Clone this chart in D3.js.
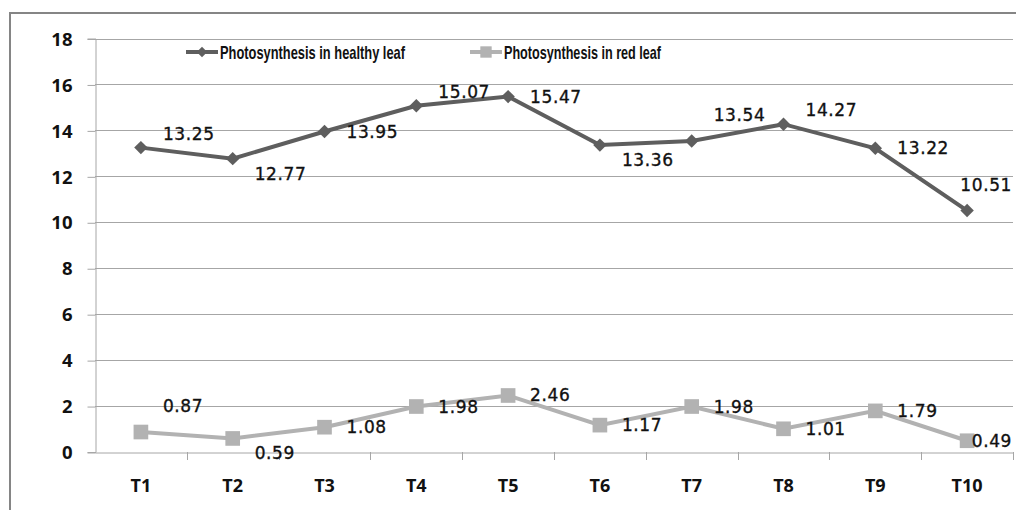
<!DOCTYPE html>
<html>
<head>
<meta charset="utf-8">
<script src="https://cdn.jsdelivr.net/npm/d3@7"></script>
<style>
  body { margin: 0; background: #fff; }
  svg { display: block; }
</style>
</head>
<body>
<div id="chart"></div>
<script>
const categories = ["T1", "T2", "T3", "T4", "T5", "T6", "T7", "T8", "T9", "T10"]
const healthy = [13.25, 12.77, 13.95, 15.07, 15.47, 13.36, 13.54, 14.27, 13.22, 10.51]
const red = [0.87, 0.59, 1.08, 1.98, 2.46, 1.17, 1.98, 1.01, 1.79, 0.49]
const yTicks = [0, 2, 4, 6, 8, 10, 12, 14, 16, 18]
// where each data label sits, like the spreadsheet's label placement
const healthyLabelPos = ["above", "below", "right", "above", "right", "below", "high", "above", "right", "high"]
const redLabelPos = ["high", "below", "right", "right", "right", "right", "right", "right", "right", "right"]

const width = 1016, height = 510
const margin = {top: 38.5, right: 3, bottom: 58, left: 95}

const svg = d3.select("#chart").append("svg")
  .attr("width", width)
  .attr("height", height)

// outer chart frame, runs off the right and bottom like the original
svg.append("rect")
  .attr("x", 10).attr("y", 13)
  .attr("width", 1030).attr("height", 530)
  .attr("fill", "none")
  .attr("stroke", "#858585")
  .attr("stroke-width", 2)

const x = d3.scaleBand()
  .domain(categories)
  .range([margin.left, width - margin.right])

const y = d3.scaleLinear()
  .domain([0, 18])
  .range([height - margin.bottom, margin.top])

const gridColor = "#a6a6a6"

// gridlines
svg.append("g")
  .selectAll("line")
  .data(yTicks.filter(d => d > 0))
  .join("line")
    .attr("x1", margin.left)
    .attr("x2", width - margin.right)
    .attr("y1", d => Math.round(y(d)) + 0.5)
    .attr("y2", d => Math.round(y(d)) + 0.5)
    .attr("stroke", gridColor)

const yAxis = svg.append("g")
  .attr("transform", `translate(${margin.left + 0.5},0)`)
  .call(d3.axisLeft(y).tickValues(yTicks).tickSize(8).tickPadding(15).tickFormat(d3.format("d")))
yAxis.attr("font-size", null).attr("font-family", null)
yAxis.select(".domain").attr("stroke", gridColor)
yAxis.selectAll(".tick line").attr("stroke", gridColor)
  .attr("transform", "translate(0,0.5)")
yAxis.selectAll("text")
  .attr("fill", "#111")
  .attr("dy", "0.36em")
  .style("font-family", "'Open Sans', sans-serif")
  .style("font-weight", "bold")
  .style("font-size", "18.5px")

const xAxis = svg.append("g")
  .attr("transform", `translate(0,${Math.round(y(0)) + 0.5})`)
  .call(d3.axisBottom(x).tickSize(0).tickPadding(27))
xAxis.attr("font-size", null).attr("font-family", null)
xAxis.select(".domain").attr("stroke", gridColor)
xAxis.selectAll("text")
  .attr("fill", "#111")
  .style("font-family", "'Open Sans', sans-serif")
  .style("font-weight", "bold")
  .style("font-size", "18px")

// category separators below the axis
svg.append("g")
  .selectAll("line")
  .data(categories)
  .join("line")
    .attr("x1", d => Math.round(x(d) + x.bandwidth()) + 0.5)
    .attr("x2", d => Math.round(x(d) + x.bandwidth()) + 0.5)
    .attr("y1", y(0))
    .attr("y2", y(0) + 8)
    .attr("stroke", gridColor)

const cx = d => x(d) + x.bandwidth() / 2

const series = [
  {name: "Photosynthesis in healthy leaf", values: healthy, color: "#5e5e5e", marker: "diamond", pos: healthyLabelPos, legendX: 186, legendW: 185},
  {name: "Photosynthesis in red leaf", values: red, color: "#b2b2b2", marker: "square", pos: redLabelPos, legendX: 470, legendW: 157},
]

const symbolOf = (m, k = 1) => m == "diamond"
  ? d3.symbol().type(d3.symbolDiamond2).size(115 * k)
  : d3.symbol().type(d3.symbolSquare).size(215 * k)

const labelDy = {right: 6, above: -8, below: 21, high: -20}

for (const s of series) {
  const pts = s.values.map((v, i) => ({c: categories[i], v, pos: s.pos[i]}))
  const line = d3.line().x(d => cx(d.c)).y(d => y(d.v))

  svg.append("path")
    .datum(pts)
    .attr("d", line)
    .attr("fill", "none")
    .attr("stroke", s.color)
    .attr("stroke-width", 4)

  svg.append("g")
    .selectAll("path")
    .data(pts)
    .join("path")
      .attr("d", symbolOf(s.marker))
      .attr("transform", d => `translate(${cx(d.c)},${y(d.v)})`)
      .attr("fill", s.color)

  svg.append("g")
    .selectAll("text")
    .data(pts)
    .join("text")
      .attr("y", d => y(d.v) + labelDy[d.pos])
      .attr("fill", "#111")
      .attr("stroke", "#111")
      .attr("stroke-width", 0.35)
      .style("font-family", "'DejaVu Sans', sans-serif")
      .style("font-size", "17px")
      .style("letter-spacing", "0.6px")
      .text(d => d3.format(".2f")(d.v))
      .attr("x", function(d) {
        // keep labels inside the chart, as the spreadsheet does
        const len = this.getComputedTextLength()
        return Math.min(cx(d.c) + 22, width - 4 - len)
      })
}

// legend
series.forEach(s => {
  const g = svg.append("g").attr("transform", `translate(${s.legendX},52)`)
  g.append("line")
    .attr("x1", 0).attr("x2", 32)
    .attr("stroke", s.color).attr("stroke-width", 4)
  g.append("path")
    .attr("d", symbolOf(s.marker, 0.6)())
    .attr("transform", "translate(16,0)")
    .attr("fill", s.color)
  g.append("text")
    .attr("x", 34).attr("y", 6.5)
    .attr("fill", "#111")
    .attr("textLength", s.legendW)
    .attr("lengthAdjust", "spacingAndGlyphs")
    .style("font-family", "'Liberation Sans', sans-serif")
    .style("font-weight", "bold")
    .style("font-size", "19px")
    .text(s.name)
})
</script>
</body>
</html>
